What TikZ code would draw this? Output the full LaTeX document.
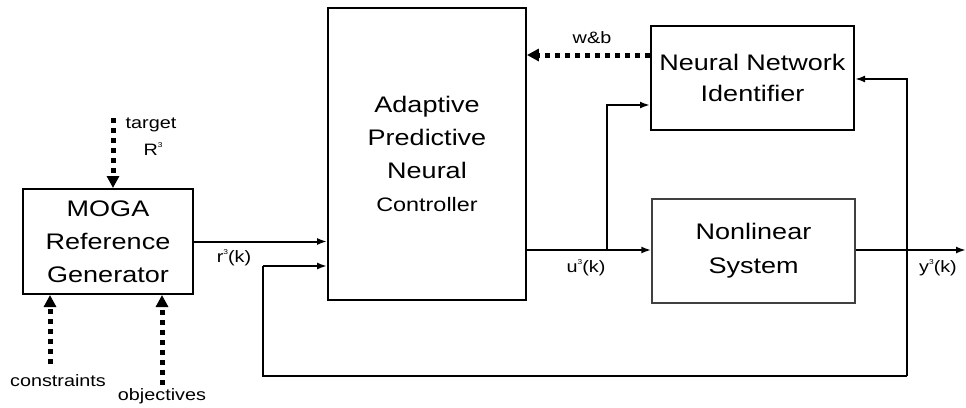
\documentclass[tikz,border=0pt]{standalone}
\usepackage{fontspec}
\setmainfont{Liberation Sans}[FakeStretch=1.2]
\usepackage{tikz}
\usetikzlibrary{calc,arrows.meta,positioning}
\newcommand{\tsup}[1]{\raisebox{0.5em}{\fontsize{7}{7}\selectfont #1}}
\tikzset{
  box/.style={draw=black,line width=2pt,align=center,inner sep=0pt,font=\fontsize{22.5}{33}\selectfont},
  ar/.style={-{Latex[length=10pt,width=7pt]},line width=2pt},
  dots/.style={-{Triangle[length=12pt,width=12pt]},line width=5pt,dash pattern=on 5pt off 5pt},
  lab/.style={font=\fontsize{16.5}{16.5}\selectfont,inner sep=0pt}
}
\begin{document}
\begin{tikzpicture}[x=1pt,y=-1pt]
\useasboundingbox (0,0) rectangle (966,407);
\node[box,minimum width=170pt,minimum height=105pt] (moga) at (108,241.5) {MOGA\\Reference\\Generator};
\node[box,line width=1.8pt,minimum width=198pt,minimum height=292pt] (ctrl) at (427,154) {Adaptive\\Predictive\\Neural\\{\fontsize{19.5}{30}\selectfont Controller}};
\node[box,minimum width=203pt,minimum height=104pt,font=\fontsize{22.5}{31}\selectfont] (nni) at (752.5,78) {Neural Network\\Identifier};
\node[box,draw=black!75,line width=1.4pt,minimum width=203pt,minimum height=104pt,font=\fontsize{22.5}{34}\selectfont] (nls) at (753.5,251) {Nonlinear\\System};
\coordinate (tap) at (907,250);
\coordinate (brn) at (607,250);
\coordinate (out) at (966,250);
\coordinate (fbl) at (263,376);
\coordinate (tgt) at (113,118);
\coordinate (con) at (50,364);
\coordinate (obj) at (162,385);
\draw[ar] (moga.east) -- (moga.east -| ctrl.west);
\draw[ar] (ctrl.east |- brn) -- (nls.west |- brn);
\draw[ar] (brn) -- (brn |- 0,105) -- (nni.west |- 0,105);
\draw[ar] (nls.east |- out) -- (out);
\draw[line width=2pt] (tap |- 0,376) -- (fbl) -- (fbl |- 0,266);
\draw[ar] (fbl |- 0,266) -- (ctrl.west |- 0,266);
\draw[ar] (tap |- 0,376) -- (tap |- 0,79) -- (nni.east |- 0,79);
\draw[dots] (nni.west |- 0,55) -- (ctrl.east |- 0,55);
\draw[dots] (tgt) -- (tgt |- moga.north);
\draw[dots] (con) -- (con |- moga.south);
\draw[dots] (obj) -- (obj |- moga.south);
\node[lab] (lr) at (234,258) {r\tsup{3}(k)};
\node[lab] (lu) at (586,268) {u\tsup{3}(k)};
\node[lab] (ly) at (938,268) {y\tsup{3}(k)};
\node[lab] (lw) at (592,38) {w\&b};
\node[lab] (lt) at (151,125) {target};
\node[lab] (lR) at (153,149) {R\tsup{3}};
\node[lab] (lc) at (58,381) {constraints};
\node[lab] (lo) at (162,396) {objectives};
\end{tikzpicture}
\end{document}
